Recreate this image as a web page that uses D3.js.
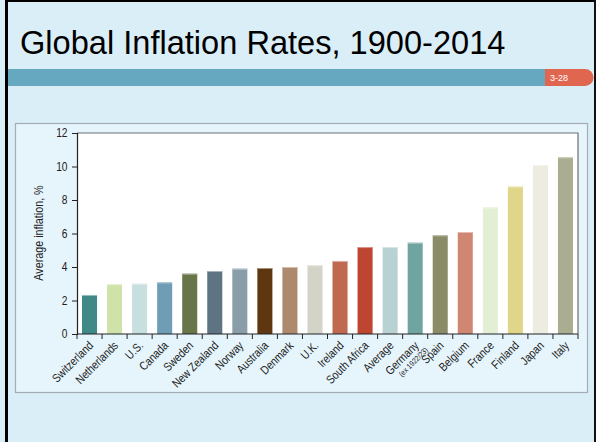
<!DOCTYPE html>
<html>
<head>
<meta charset="utf-8">
<script src="https://cdn.jsdelivr.net/npm/d3@7"></script>
<style>
  html, body { margin: 0; padding: 0; background: #ffffff; }
  svg { display: block; }
  text { font-family: "Liberation Sans", Arial, sans-serif; }
</style>
</head>
<body>
<svg id="chart" width="596" height="442"></svg>
<script>
const categories = ["Switzerland","Netherlands","U.S.","Canada","Sweden","New Zealand","Norway","Australia","Denmark","U.K.","Ireland","South Africa","Average","Germany","Spain","Belgium","France","Finland","Japan","Italy"];
const values = [2.33, 2.97, 3.0, 3.08, 3.6, 3.76, 3.9, 3.94, 4.0, 4.1, 4.36, 5.19, 5.19, 5.45, 5.89, 6.09, 7.56, 8.8, 10.09, 10.55];
const barColors = ["#3f8a87","#cfe3a9","#c8dfe0","#6e9db5","#677548","#5e7482","#8a9ea9","#5e3710","#ad8a6e","#d4d3c8","#bf6a50","#be4530","#b8d2d3","#6fa4a1","#8a8c68","#cf8673","#e3efd5","#e0d68a","#eeebe0","#abad90"];
const yTicks = [0, 2, 4, 6, 8, 10, 12];
const subLabels = {"Germany": "(ex 1922/23)"};
const titleText = "Global Inflation Rates, 1900-2014";
const slideNumber = "3-28";
const yAxisTitle = "Average inflation, %";

const svg = d3.select("#chart");

// Slide background
svg.append("rect").attr("x", 0).attr("y", 0).attr("width", 596).attr("height", 442).attr("fill", "#daeef8");
// Outer black border (left, top, right)
svg.append("rect").attr("x", 5).attr("y", 0).attr("width", 3).attr("height", 442).attr("fill", "#000");
svg.append("rect").attr("x", 5).attr("y", 0).attr("width", 591).attr("height", 2).attr("fill", "#000");
svg.append("rect").attr("x", 594).attr("y", 0).attr("width", 2).attr("height", 442).attr("fill", "#111");

// Title
svg.append("text").attr("x", 20).attr("y", 54)
  .attr("font-size", 32.6).attr("fill", "#000").text(titleText);

// Blue band and red tab
svg.append("rect").attr("x", 8).attr("y", 69).attr("width", 540).attr("height", 17).attr("fill", "#65a8c0");
svg.append("path")
  .attr("d", "M545,69 H585 A8.5,8.5 0 0 1 585,86 H545 Z")
  .attr("fill", "#e06650");
svg.append("text").attr("x", 550).attr("y", 81)
  .attr("font-size", 9).attr("fill", "#fff").text(slideNumber);

// Chart panel
svg.append("rect").attr("x", 15.5).attr("y", 123.5).attr("width", 572).attr("height", 269)
  .attr("fill", "#e6f5fc").attr("stroke", "#a3adb3").attr("stroke-width", 1.2);

const pLeft = 77, pRight = 578, pTop = 133, pBottom = 334;

const x = d3.scaleBand().domain(categories).range([pLeft, pRight]).paddingInner(0.4).paddingOuter(0.2);
const y = d3.scaleLinear().domain([0, 12]).range([pBottom, pTop]);

// plot area
svg.append("rect").attr("x", pLeft).attr("y", pTop).attr("width", pRight - pLeft).attr("height", pBottom - pTop).attr("fill", "#fff");
// top and right frame
svg.append("path").attr("d", `M${pLeft},${pTop} H${pRight} V${pBottom}`).attr("fill", "none").attr("stroke", "#6b6f72").attr("stroke-width", 1.2);

// bars
const data = categories.map((c, i) => ({ c, v: values[i], col: barColors[i] }));
svg.append("g").selectAll("rect").data(data).join("rect")
  .attr("x", d => x(d.c)).attr("y", d => y(d.v))
  .attr("width", x.bandwidth()).attr("height", d => y(0) - y(d.v))
  .attr("fill", d => d.col);
// light top edge
svg.append("g").selectAll("line").data(data).join("line")
  .attr("x1", d => x(d.c)).attr("x2", d => x(d.c) + x.bandwidth())
  .attr("y1", d => y(d.v) + 0.5).attr("y2", d => y(d.v) + 0.5)
  .attr("stroke", d => d3.interpolateRgb(d.col, "#ffffff")(0.45)).attr("stroke-width", 1);

// y axis
const yAxis = d3.axisLeft(y).tickValues(yTicks).tickSize(5).tickPadding(3).tickFormat(d3.format("d"));
const gy = svg.append("g").attr("transform", `translate(${pLeft},0)`).call(yAxis);
gy.select(".domain").attr("stroke", "#222").attr("stroke-width", 1.2);
gy.selectAll(".tick line").attr("stroke", "#222");
gy.selectAll(".tick text").attr("font-size", 12).attr("fill", "#222")
  .style("font-family", "'Liberation Sans', Arial, sans-serif")
  .attr("transform", "scale(0.85,1)").attr("x", -9.5 / 0.85);

// x axis line
svg.append("line").attr("x1", pLeft).attr("x2", pRight).attr("y1", pBottom).attr("y2", pBottom)
  .attr("stroke", "#222").attr("stroke-width", 1.2);
// boundary ticks
const step = x.step();
const boundaries = categories.map(c => x(c) + x.bandwidth() / 2 - step / 2).concat([x(categories[categories.length - 1]) + x.bandwidth() / 2 + step / 2]);
svg.append("g").selectAll("line").data(boundaries).join("line")
  .attr("x1", d => d).attr("x2", d => d).attr("y1", pBottom).attr("y2", pBottom + 5)
  .attr("stroke", "#222").attr("stroke-width", 1);

// x labels
const lg = svg.append("g");
data.forEach(d => {
  const cx = x(d.c) + x.bandwidth() / 2 + 1.5;
  const cy = pBottom + 9.5;
  const g = lg.append("g").attr("transform", `translate(${cx},${cy}) rotate(-45) scale(0.84,1)`);
  g.append("text").attr("text-anchor", "end").attr("y", 4)
    .attr("font-size", 12).attr("fill", "#222").text(d.c);
  if (subLabels[d.c]) {
    g.append("text").attr("text-anchor", "end").attr("x", 4).attr("y", 13.5)
      .attr("font-size", 8).attr("fill", "#222").text(subLabels[d.c]);
  }
});

// y axis title
svg.append("text").attr("transform", `translate(43,233) rotate(-90) scale(0.86,1)`)
  .attr("text-anchor", "middle").attr("font-size", 12.5).attr("fill", "#222").text(yAxisTitle);
</script>
</body>
</html>
